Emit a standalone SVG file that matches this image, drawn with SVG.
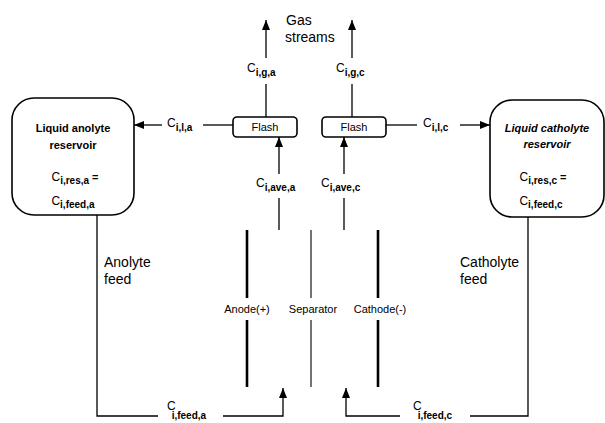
<svg xmlns="http://www.w3.org/2000/svg" width="605" height="423" viewBox="0 0 605 423">
<defs>
<marker id="ah" viewBox="0 0 10 8" refX="10" refY="4" markerWidth="10" markerHeight="8" markerUnits="userSpaceOnUse" orient="auto">
<path d="M0,0 L10,4 L0,8 Z" fill="#000"/>
</marker>
<style>
text{font-family:"Liberation Sans",Arial,sans-serif;fill:#000}
.ln{stroke:#000;stroke-width:1.3;fill:none}
.box{stroke:#000;stroke-width:1.6;fill:#fff}
.c{font-size:12px}
.s{font-size:10px;font-weight:bold}
.big{font-size:14px}
.lab{font-size:11px}
.res{font-size:11px;font-weight:bold}
.electrode{stroke:#000;stroke-width:2.6}
.sep{stroke:#000;stroke-width:1.1}
</style>
</defs>
<rect width="605" height="423" fill="#fff"/>

<g id="connectors">
<line class="ln" x1="266" y1="58" x2="266" y2="20" marker-end="url(#ah)"/>
<line class="ln" x1="266" y1="117" x2="266" y2="84"/>
<line class="ln" x1="352" y1="58" x2="352" y2="20" marker-end="url(#ah)"/>
<line class="ln" x1="352" y1="117" x2="352" y2="84"/>
<line class="ln" x1="233" y1="125" x2="203" y2="125"/>
<line class="ln" x1="162" y1="125" x2="134" y2="125" marker-end="url(#ah)"/>
<line class="ln" x1="386" y1="125" x2="417" y2="125"/>
<line class="ln" x1="460" y1="125" x2="490" y2="125" marker-end="url(#ah)"/>
<line class="ln" x1="279" y1="230" x2="279" y2="198"/>
<line class="ln" x1="279" y1="174" x2="279" y2="137" marker-end="url(#ah)"/>
<line class="ln" x1="344" y1="230" x2="344" y2="198"/>
<line class="ln" x1="344" y1="174" x2="344" y2="137" marker-end="url(#ah)"/>
<polyline class="ln" points="97,215 97,416 158,416"/>
<polyline class="ln" points="223,416 283,416 283,388" marker-end="url(#ah)"/>
<polyline class="ln" points="528,217 528,416 470,416"/>
<polyline class="ln" points="400,416 346,416 346,388" marker-end="url(#ah)"/>
</g>

<g id="cell">
<line class="electrode" x1="247" y1="230" x2="247" y2="298"/>
<line class="electrode" x1="247" y1="320" x2="247" y2="387"/>
<line class="sep" x1="311" y1="230" x2="311" y2="298"/>
<line class="sep" x1="311" y1="320" x2="311" y2="387"/>
<line class="electrode" x1="378" y1="230" x2="378" y2="298"/>
<line class="electrode" x1="378" y1="320" x2="378" y2="387"/>
<text class="lab" x="247" y="313" text-anchor="middle">Anode(+)</text>
<text class="lab" x="313" y="313" text-anchor="middle">Separator</text>
<text class="lab" x="380" y="313" text-anchor="middle">Cathode(-)</text>
</g>

<g id="anolyte-reservoir">
<rect class="box" x="12" y="98" width="122" height="117" rx="22" ry="22"/>
<text class="res" x="73" y="132" text-anchor="middle">Liquid anolyte</text>
<text class="res" x="73" y="149" text-anchor="middle">reservoir</text>
<text class="res" x="75" y="181" text-anchor="middle"><tspan class="c" font-weight="normal">C</tspan><tspan class="s" dy="3">i,res,a</tspan><tspan dy="-3"> =</tspan></text>
<text class="res" x="73" y="205" text-anchor="middle"><tspan class="c" font-weight="normal">C</tspan><tspan class="s" dy="3">i,feed,a</tspan></text>
</g>

<g id="catholyte-reservoir">
<rect class="box" x="490" y="100" width="114" height="117" rx="22" ry="22"/>
<text class="res" x="547" y="132" text-anchor="middle" font-style="italic">Liquid catholyte</text>
<text class="res" x="547" y="148" text-anchor="middle" font-style="italic">reservoir</text>
<text class="res" x="543" y="181" text-anchor="middle"><tspan class="c" font-weight="normal">C</tspan><tspan class="s" dy="3">i,res,c</tspan><tspan dy="-3"> =</tspan></text>
<text class="res" x="541" y="205" text-anchor="middle"><tspan class="c" font-weight="normal">C</tspan><tspan class="s" dy="3">i,feed,c</tspan></text>
</g>

<g id="flash-a">
<rect class="box" x="233" y="117" width="64" height="20" rx="4" ry="4"/>
<text class="lab" x="265" y="131" text-anchor="middle">Flash</text>
</g>

<g id="flash-c">
<rect class="box" x="322" y="117" width="64" height="20" rx="4" ry="4"/>
<text class="lab" x="354" y="131" text-anchor="middle">Flash</text>
</g>

<g id="labels">
<text class="big" x="286" y="25">Gas</text>
<text class="big" x="285" y="42">streams</text>
<text x="247" y="72"><tspan class="c">C</tspan><tspan class="s" dy="4">i,g,a</tspan></text>
<text x="336" y="72"><tspan class="c">C</tspan><tspan class="s" dy="4">i,g,c</tspan></text>
<text x="167" y="127"><tspan class="c">C</tspan><tspan class="s" dy="4">i,l,a</tspan></text>
<text x="423" y="127"><tspan class="c">C</tspan><tspan class="s" dy="4">i,l,c</tspan></text>
<text x="256" y="187"><tspan class="c">C</tspan><tspan class="s" dy="4">i,ave,a</tspan></text>
<text x="321" y="187"><tspan class="c">C</tspan><tspan class="s" dy="4">i,ave,c</tspan></text>
<text class="big" x="104" y="267">Anolyte</text>
<text class="big" x="104" y="284">feed</text>
<text class="big" x="460" y="267">Catholyte</text>
<text class="big" x="460" y="284">feed</text>
<text x="167" y="410"><tspan class="c">C</tspan><tspan class="s" dy="9" dx="-4">i,feed,a</tspan></text>
<text x="413" y="410"><tspan class="c">C</tspan><tspan class="s" dy="9" dx="-4">i,feed,c</tspan></text>
</g>
</svg>
